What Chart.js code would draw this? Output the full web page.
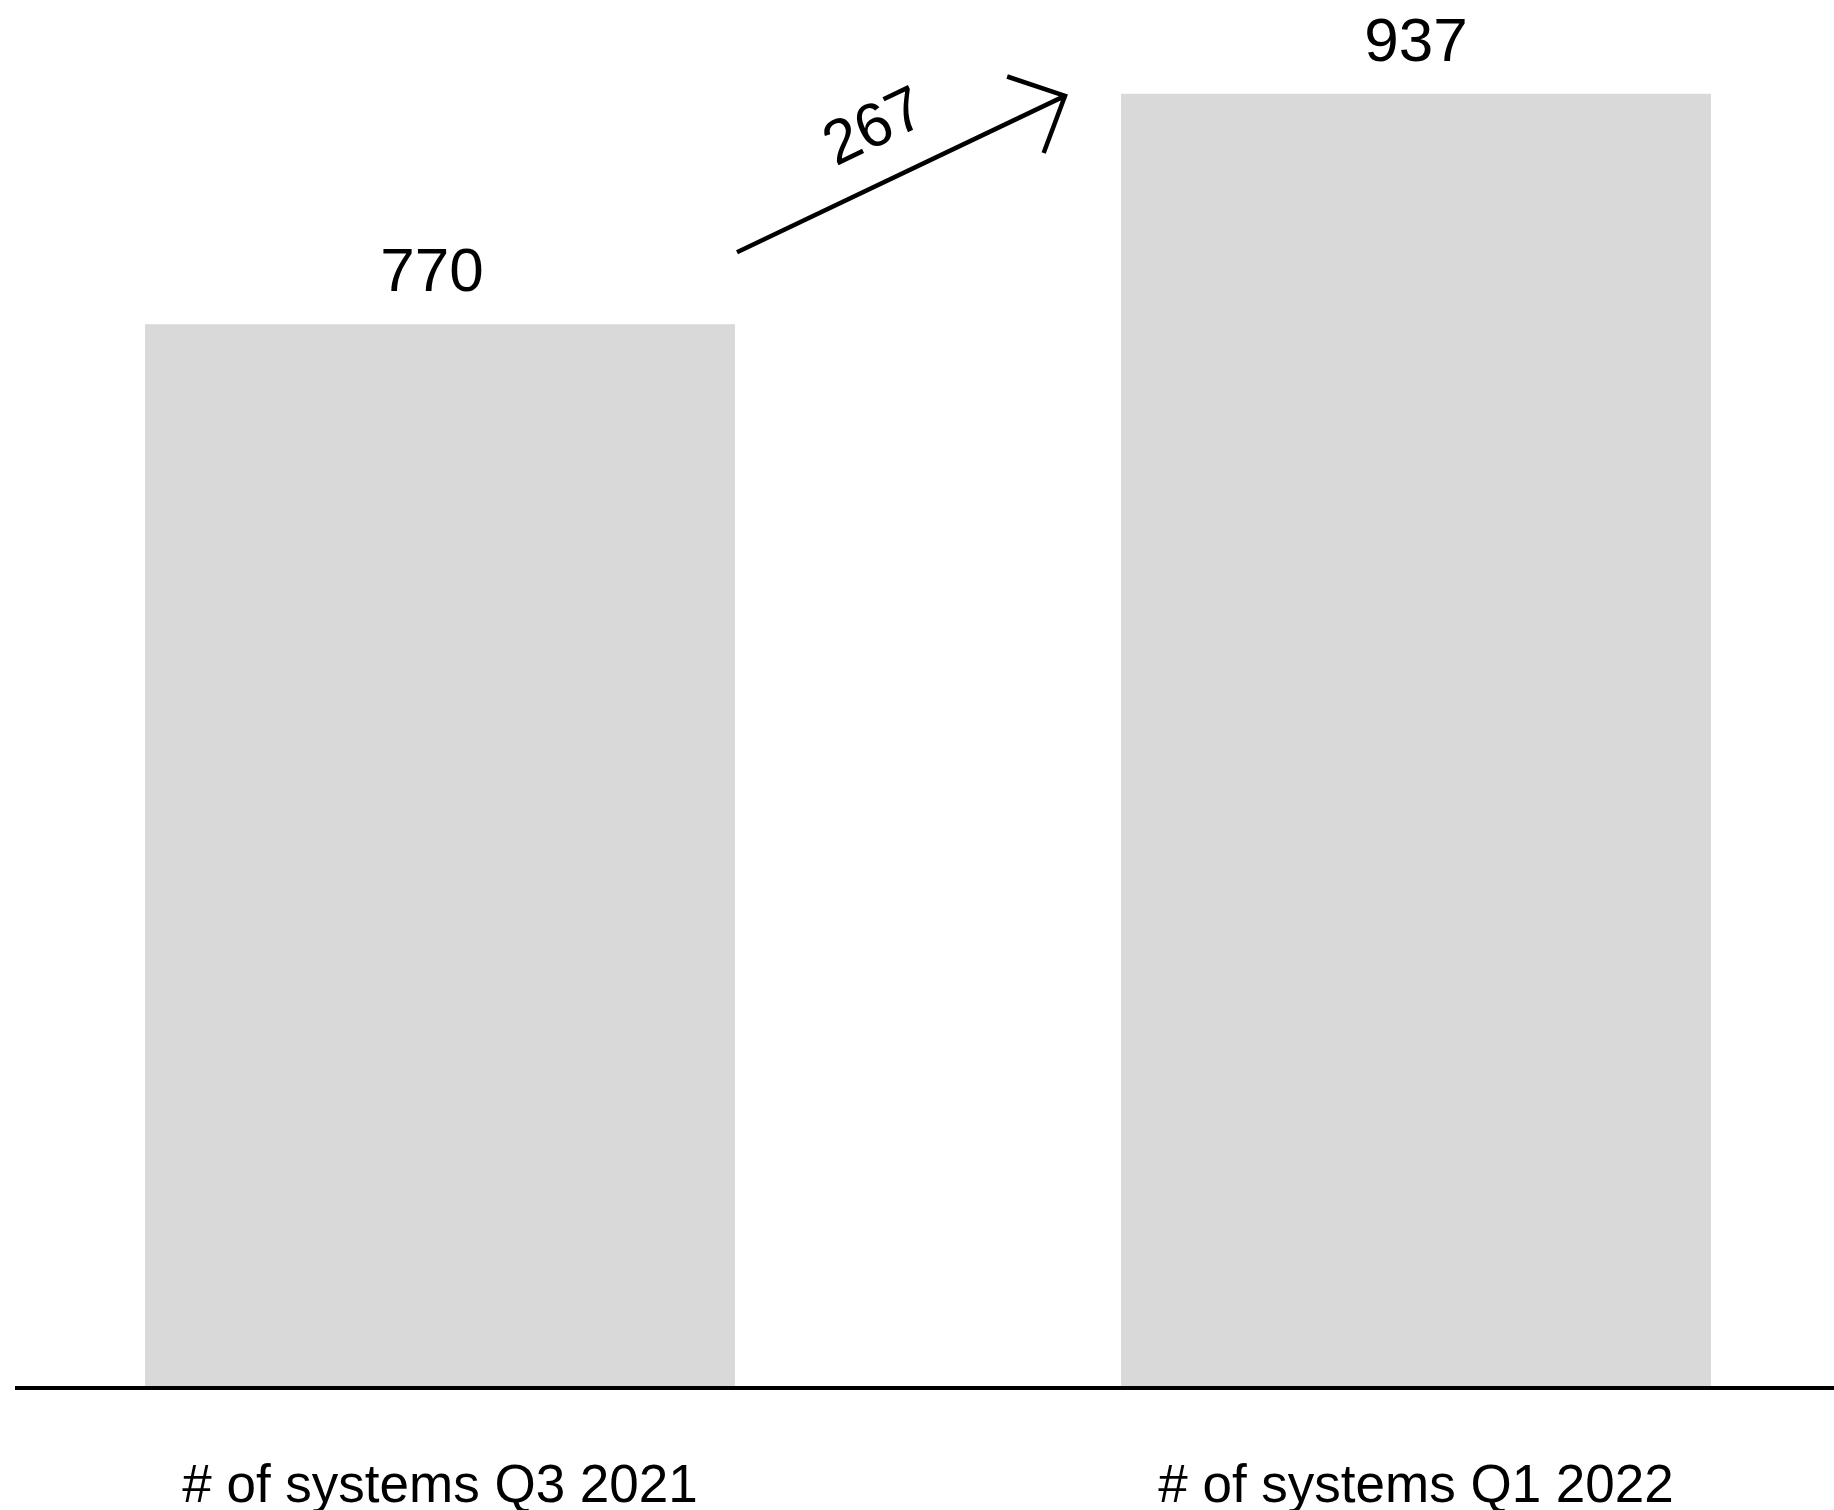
<!DOCTYPE html>
<html>
<head>
<meta charset="utf-8">
<script src="https://cdn.jsdelivr.net/npm/chart.js@4/dist/chart.umd.min.js"></script>
<style>
  html, body { margin: 0; padding: 0; background: #ffffff; }
  #wrap { width: 1834px; height: 1510px; }
</style>
</head>
<body>
<div id="wrap"><canvas id="systemsChart"></canvas></div>
<script>
// Chart data
const categories = ['# of systems Q3 2021', '# of systems Q1 2022'];
const systemCounts = [770, 937];
const changeLabel = '267';

const FONT = '"Liberation Sans", Arial, sans-serif';

// Draws the baseline, the value labels and the arrow between the bars
const annotationPlugin = {
    id: 'annotations',
    afterDatasetsDraw(chart) {
        const ctx = chart.ctx;
        const yScale = chart.scales.y;
        const bars = chart.getDatasetMeta(0).data;
        const baseY = yScale.getPixelForValue(0);

        ctx.save();

        // baseline across the whole canvas
        ctx.strokeStyle = '#000000';
        ctx.lineWidth = 4;
        ctx.beginPath();
        ctx.moveTo(15, baseY + 1);
        ctx.lineTo(chart.width, baseY + 1);
        ctx.stroke();

        // value labels above bars
        ctx.fillStyle = '#000000';
        ctx.font = '62px ' + FONT;
        ctx.textAlign = 'center';
        ctx.textBaseline = 'alphabetic';
        bars.forEach((bar, i) => {
            ctx.fillText(String(systemCounts[i]), bar.x - (i === 0 ? 8 : 0), bar.y - 33);
        });

        // arrow from first bar to second bar
        const b1 = bars[0], b2 = bars[1];
        const x1 = b1.x + b1.width / 2 + 2;
        const y1 = b1.y - 72;
        const x2 = b2.x - b2.width / 2 - 56;
        const y2 = b2.y + 2;
        const ang = Math.atan2(y2 - y1, x2 - x1);
        ctx.lineWidth = 4.5;
        ctx.lineCap = 'butt';
        ctx.beginPath();
        ctx.moveTo(x1, y1);
        ctx.lineTo(x2, y2);
        const headLen = 61;
        const spread = 44 * Math.PI / 180;
        ctx.moveTo(x2 + headLen * Math.cos(ang + Math.PI + spread), y2 + headLen * Math.sin(ang + Math.PI + spread));
        ctx.lineTo(x2, y2);
        ctx.lineTo(x2 + headLen * Math.cos(ang + Math.PI - spread), y2 + headLen * Math.sin(ang + Math.PI - spread));
        ctx.stroke();

        // change label along the arrow
        const mx = (x1 + x2) / 2, my = (y1 + y2) / 2;
        const ux = Math.cos(ang), uy = Math.sin(ang);
        const nx = uy, ny = -ux;
        const tx = mx + 52 * nx - 4 * ux;
        const ty = my + 52 * ny - 4 * uy;
        ctx.translate(tx, ty);
        ctx.rotate(ang);
        ctx.textBaseline = 'middle';
        ctx.fillText(changeLabel, 0, 0);

        ctx.restore();
    }
};

window.addEventListener('DOMContentLoaded', () => {
    const ctx = document.getElementById('systemsChart').getContext('2d');
    new Chart(ctx, {
        type: 'bar',
        data: {
            labels: categories,
            datasets: [
                {
                    data: systemCounts,
                    backgroundColor: '#d9d9d9',
                    borderWidth: 0,
                    categoryPercentage: 1,
                    barPercentage: 0.6045,
                    clip: false,
                },
            ],
        },
        options: {
            responsive: true,
            maintainAspectRatio: false,
            animation: false,
            layout: {
                padding: { left: 440, right: 418, top: 0, bottom: 0 },
            },
            plugins: {
                legend: { display: false },
                tooltip: { enabled: false },
            },
            scales: {
                x: {
                    offset: false,
                    grid: { display: false, drawTicks: false },
                    border: { display: false },
                    ticks: {
                        color: '#000000',
                        padding: 79,
                        maxRotation: 0,
                        autoSkip: false,
                        font: { family: FONT, size: 53, lineHeight: 0.8 },
                    },
                    afterFit(scale) {
                        scale.height = 123;
                    },
                },
                y: {
                    display: false,
                    min: 0,
                    max: 1005,
                },
            },
        },
        plugins: [annotationPlugin],
    });
});
</script>
</body>
</html>
